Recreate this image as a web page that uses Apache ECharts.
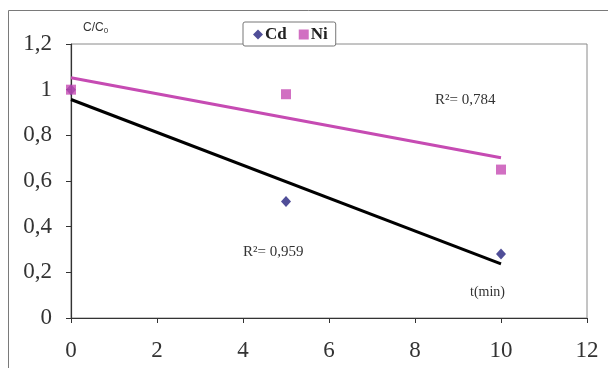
<!DOCTYPE html>
<html>
<head>
<meta charset="utf-8">
<script src="https://cdn.jsdelivr.net/npm/echarts@6/dist/echarts.min.js"></script>
<style>
  html, body { margin: 0; padding: 0; background: #fff; }
  #chart { width: 608px; height: 368px; }
</style>
</head>
<body>
<div id="chart"></div>
<script>
// Sampling times (min)
const times = [0, 5, 10];
// Relative concentration C/C0
const cdValues = [1.0, 0.51, 0.28];
const niValues = [1.0, 0.98, 0.65];
// Linear trendline values at the ends of the time range
const fitTimes = [0, 10];
const cdFit = [0.957, 0.237];
const niFit = [1.052, 0.702];
// Coefficients of determination
const cdR2 = '0,959';
const niR2 = '0,784';
// Axis ticks
const xTicks = [0, 2, 4, 6, 8, 10, 12];
const yTicks = [0, 0.2, 0.4, 0.6, 0.8, 1, 1.2];

const pair = (xs, ys) => xs.map((x, i) => [x, ys[i]]);
const fmt = v => String(v).replace('.', ',');

const cdColor = '#24227E';
const niColor = '#C64BB3';
const serif = '"Liberation Serif", "Times New Roman", serif';
const sans = '"Liberation Sans", Arial, sans-serif';

const chart = echarts.init(document.getElementById('chart'), null, { renderer: 'canvas' });

chart.setOption({
  animation: false,
  backgroundColor: '#fff',
  grid: {
    left: 71, right: 21, top: 44, bottom: 50,
    show: true, borderColor: '#8a8a8a', borderWidth: 1, backgroundColor: 'transparent'
  },
  legend: {
    data: [
      { name: 'Cd', icon: 'diamond' },
      { name: 'Ni', icon: 'rect' }
    ],
    left: 243, top: 22,
    backgroundColor: '#fff',
    borderColor: '#777', borderWidth: 1, borderRadius: 2,
    padding: [4, 8, 3, 10],
    itemWidth: 10, itemHeight: 10, itemGap: 12,
    textStyle: { fontFamily: serif, fontSize: 17, fontWeight: 'bold', color: '#222', padding: [0, 0, 0, -3] }
  },
  xAxis: {
    type: 'value', min: 0, max: 12, interval: 2,
    axisLine: { show: true, lineStyle: { color: '#333', width: 1.2 } },
    axisTick: { show: true, length: 5, lineStyle: { color: '#333' } },
    splitLine: { show: false },
    axisLabel: {
      margin: 21, fontFamily: serif, fontSize: 23, color: '#333',
      formatter: v => xTicks.includes(v) ? fmt(v) : ''
    }
  },
  yAxis: {
    type: 'value', min: 0, max: 1.2, interval: 0.2,
    axisLine: { show: true, lineStyle: { color: '#333', width: 1.2 } },
    axisTick: { show: true, length: 5, lineStyle: { color: '#333' } },
    splitLine: { show: false },
    axisLabel: {
      margin: 19, fontFamily: serif, fontSize: 23, color: '#333',
      formatter: v => {
        const t = yTicks.find(y => Math.abs(y - v) < 1e-9);
        return t === undefined ? '' : fmt(Math.round(t * 10) / 10);
      }
    }
  },
  graphic: [
    {
      type: 'rect', silent: true, z: -10,
      shape: { x: 8.5, y: 10.5, width: 640, height: 400 },
      style: { fill: null, stroke: '#7a7a7a', lineWidth: 1 }
    },
    {
      type: 'text', left: 83, top: 22,
      style: {
        text: '{a|C/C}{b|0}',
        rich: {
          a: { fontFamily: sans, fontSize: 12, fill: '#333' },
          b: { fontFamily: sans, fontSize: 8, fill: '#333', padding: [5, 0, 0, 0] }
        }
      }
    },
    {
      type: 'text', left: 435, top: 93,
      style: { text: 'R²= ' + niR2, font: '15px ' + serif, fill: '#333' }
    },
    {
      type: 'text', left: 243, top: 245,
      style: { text: 'R²= ' + cdR2, font: '15px ' + serif, fill: '#333' }
    },
    {
      type: 'text', left: 470, top: 285,
      style: { text: 't(min)', font: '14px ' + serif, fill: '#333' }
    }
  ],
  series: [
    {
      name: 'Cd fit', type: 'line', data: pair(fitTimes, cdFit),
      symbol: 'none', lineStyle: { color: '#000', width: 3 }, z: 2
    },
    {
      name: 'Ni fit', type: 'line', data: pair(fitTimes, niFit),
      symbol: 'none', lineStyle: { color: niColor, width: 3 }, z: 2
    },
    {
      name: 'Cd', type: 'scatter', data: pair(times, cdValues),
      symbol: 'diamond', symbolSize: [10, 11], itemStyle: { color: cdColor }, z: 3
    },
    {
      name: 'Ni', type: 'scatter', data: pair(times, niValues),
      symbol: 'rect', symbolSize: 10, itemStyle: { color: niColor }, z: 4
    }
  ]
});
</script>
</body>
</html>
